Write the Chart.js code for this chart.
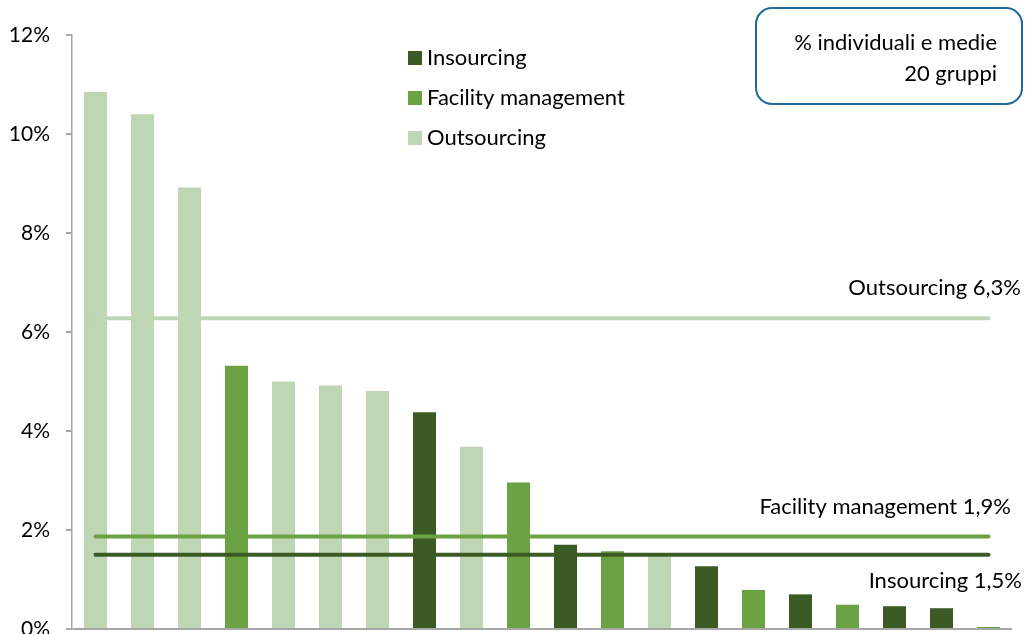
<!DOCTYPE html>
<html>
<head>
<meta charset="utf-8">
<script src="https://cdn.jsdelivr.net/npm/chart.js@4/dist/chart.umd.min.js"></script>
<style>
  html, body { margin: 0; padding: 0; background: #fff; overflow: hidden; }
  #wrap { position: relative; width: 1032px; height: 634px; }
</style>
</head>
<body>
<div id="wrap"><canvas id="chart" width="1032" height="634"></canvas></div>
<script>
// 20 gruppi, ordinati per percentuale
const categories = ['1','2','3','4','5','6','7','8','9','10','11','12','13','14','15','16','17','18','19','20'];
const values = [10.85, 10.40, 8.92, 5.32, 5.00, 4.92, 4.81, 4.38, 3.68, 2.96, 1.70, 1.57, 1.47, 1.27, 0.79, 0.70, 0.49, 0.46, 0.42, 0.04];
const groups = ['O','O','O','F','O','O','O','I','O','F','I','F','O','I','F','I','F','I','I','F'];

// medie per tipologia
const meanNames = ['Outsourcing 6,3%', 'Facility management 1,9%', 'Insourcing 1,5%'];
const meanValues = [6.28, 1.87, 1.50];
const meanKeys = ['O', 'F', 'I'];

const legendNames = ['Insourcing', 'Facility management', 'Outsourcing'];
const legendKeys = ['I', 'F', 'O'];

const yTicks = [0, 2, 4, 6, 8, 10, 12];

const COLORS = { I: '#3B5A24', F: '#6AA244', O: '#BED6B4' };
const FONT = 'Lato, "Open Sans", sans-serif';

const meanDatasets = meanValues.map((v, i) => ({
  type: 'line',
  label: meanNames[i],
  data: categories.map(() => v),
  borderColor: COLORS[meanKeys[i]],
  borderWidth: 4,
  borderCapStyle: 'round',
  pointRadius: 0,
  fill: false,
  order: 0
}));

const textPlugin = {
  id: 'texts',
  afterDraw(chart) {
    const ctx = chart.ctx;
    const y = chart.scales.y;
    ctx.save();
    ctx.fillStyle = '#000';
    ctx.font = '22px ' + FONT;
    ctx.textBaseline = 'middle';

    // legenda
    legendNames.forEach((name, i) => {
      const cy = 58 + i * 40;
      ctx.fillStyle = COLORS[legendKeys[i]];
      ctx.fillRect(408, cy - 7, 14, 14);
      ctx.fillStyle = '#000';
      ctx.textAlign = 'left';
      ctx.fillText(name, 427, cy);
    });

    // etichette delle medie
    ctx.textAlign = 'right';
    const labelX = [1021, 1011, 1022];
    const labelDy = [-30, -30, 26];
    meanNames.forEach((name, i) => {
      ctx.fillText(name, labelX[i], y.getPixelForValue(meanValues[i]) + labelDy[i]);
    });

    // riquadro note
    ctx.beginPath();
    ctx.roundRect(756, 8, 266, 96, 16);
    ctx.lineWidth = 2;
    ctx.strokeStyle = '#1F6C9C';
    ctx.stroke();
    ctx.fillText('% individuali e medie', 997, 43);
    ctx.fillText('20 gruppi', 997, 74);
    ctx.restore();
  }
};

new Chart(document.getElementById('chart'), {
  data: {
    labels: categories,
    datasets: [{
      type: 'bar',
      label: 'gruppi',
      data: values,
      backgroundColor: groups.map(g => COLORS[g]),
      barPercentage: 0.49,
      categoryPercentage: 1,
      order: 1
    }, ...meanDatasets]
  },
  options: {
    responsive: false,
    animation: false,
    layout: { padding: { top: 35, bottom: 5, left: 0, right: 20 } },
    plugins: { legend: { display: false }, tooltip: { enabled: false } },
    scales: {
      x: { display: false, offset: true },
      y: {
        min: 0,
        max: 12,
        afterBuildTicks: s => { s.ticks = yTicks.map(v => ({ value: v })); },
        afterFit: s => { s.width = 72; s.paddingTop = 0; s.paddingBottom = 0; },
        ticks: {
          padding: 16,
          color: '#000',
          font: { family: FONT, size: 21 },
          callback: v => v + '%'
        },
        grid: {
          color: c => c.tick && c.tick.value === 0 ? '#A6A6A6' : 'rgba(0,0,0,0)',
          tickColor: '#A6A6A6',
          tickLength: 6,
          lineWidth: 2
        },
        border: { display: true, color: '#A6A6A6', width: 1.5 }
      }
    }
  },
  plugins: [textPlugin]
});
</script>
</body>
</html>
